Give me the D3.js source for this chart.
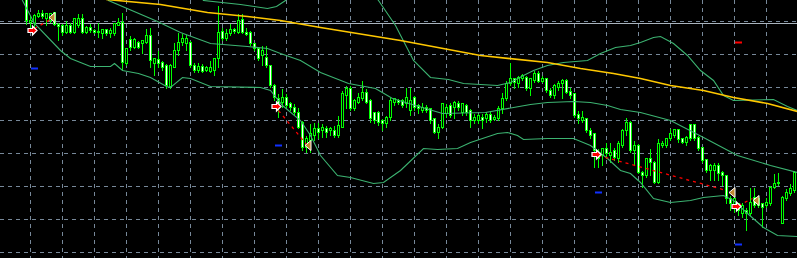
<!DOCTYPE html>
<html lang="en">
<head>
<meta charset="utf-8">
<script src="https://cdn.jsdelivr.net/npm/d3@7"></script>
<style type="text/css">
body {
	margin: 0;
	background-color: #000000;
	overflow: hidden;
}
svg { display: block; }
</style>
</head>
<body>
<script type="text/javascript">

// bar index of the first candle in ohlc
var firstBar = 6;

// candles: [open, high, low, close]
var ohlc = [
[303,308,276,280],[278,285,272,280],[277,287,272,285],[284,291,283,287],[287,291,282,284], // 6-10
[282,288,275,287],[280,288,278,287],[288,289,275,276],[276,278,260,274],[275,277,265,268], // 11-15
[268,280,267,275],[275,278,267,268],[268,283,267,282],[275,287,273,282],[282,287,267,268], // 16-20
[268,275,267,273],[273,277,268,270],[270,272,267,268],[268,278,263,269],[267,272,262,271], // 21-25
[271,272,265,267],[267,273,263,270],[267,278,265,277],[275,283,275,278],[278,288,230,238], // 26-30
[237,253,235,252],[261,265,250,253],[253,263,252,261],[258,260,252,253],[257,260,247,260], // 31-35
[258,272,257,265],[265,273,233,240],[237,243,225,242],[241,250,233,237],[238,240,230,233], // 36-40
[235,237,212,215],[214,237,212,235],[233,258,233,250],[250,268,245,258],[258,267,255,262], // 41-45
[257,266,250,262],[258,260,233,235],[235,238,228,230],[230,238,228,234],[234,237,228,229], // 46-50
[230,235,229,233],[229,240,228,233],[230,243,225,242],[242,295,233,268],[269,273,260,262], // 51-55
[262,272,260,267],[267,277,265,271],[271,273,267,269],[268,287,267,280],[281,287,267,268], // 56-60
[268,273,265,266],[268,270,255,257],[257,258,250,252],[252,253,240,242],[245,255,235,250], // 61-65
[243,255,233,235],[235,236,213,215],[215,217,200,203],[202,207,183,197],[198,212,193,203], // 66-70
[203,207,192,195],[197,199,190,193],[193,197,185,188],[188,193,172,173],[178,180,150,153], // 71-75
[153,165,148,162],[160,177,148,167],[165,178,160,172],[172,178,162,168],[170,177,163,173], // 76-80
[172,175,163,168],[170,174,165,172],[170,175,163,165],[165,185,163,175],[173,210,173,207], // 81-85
[205,215,192,212],[212,215,190,192],[192,202,190,200],[198,208,197,203],[202,220,200,208], // 86-90
[208,212,197,198],[200,202,178,182],[188,188,177,180],[188,190,175,178],[180,182,170,177], // 91-95
[177,185,173,183],[183,203,180,200],[198,203,195,202],[200,202,196,198],[200,202,193,195], // 96-100
[197,213,193,203],[190,213,185,200],[203,205,190,193],[195,197,187,192],[190,198,188,193], // 101-105
[193,196,188,190],[192,193,177,180],[182,183,167,168],[168,177,162,173],[173,198,172,197], // 106-110
[187,197,183,193],[195,198,183,185],[193,200,182,198],[197,200,190,193],[188,198,185,197], // 111-115
[195,197,185,188],[190,192,173,180],[180,187,177,183],[180,187,177,185],[183,187,172,180], // 116-120
[182,189,178,186],[186,190,178,180],[181,186,180,183],[182,195,180,192],[192,208,187,202], // 121-125
[202,220,200,217],[217,238,215,222],[222,223,212,218],[217,225,213,223],[222,227,220,225], // 126-130
[223,225,210,212],[212,223,205,222],[220,230,218,227],[227,230,218,219],[219,225,218,222], // 131-135
[222,223,208,210],[210,213,203,205],[205,217,202,215],[213,220,210,217],[217,222,202,220], // 136-140
[220,222,207,208],[209,213,202,205],[207,208,183,185],[186,190,177,182],[180,190,178,183], // 141-145
[182,183,168,170],[170,173,162,165],[167,168,133,150],[148,152,133,142],[145,153,135,152], // 146-150
[152,158,142,147],[145,158,138,148],[150,153,140,143],[142,160,138,157],[155,172,153,170], // 151-155
[170,183,165,178],[178,180,148,150],[150,160,135,155],[155,157,127,128],[128,130,113,125], // 156-160
[125,143,123,142],[142,152,125,138],[138,140,117,118],[118,162,117,157],[155,160,153,157], // 161-165
[155,163,153,162],[162,172,160,167],[165,172,163,171],[171,172,158,161],[162,163,157,158], // 166-170
[158,165,155,163],[176,177,160,162],[176,177,160,162],[163,165,150,152],[153,153,138,140], // 171-175
[141,142,128,130],[130,137,120,135],[130,138,120,135],[135,138,120,127],[128,130,115,125], // 176-180
[125,125,97,102],[102,105,90,97],[95,105,88,102],[97,98,85,90],[87,98,83,95],              // 181-185
[90,93,70,87],[87,113,85,98],[103,113,93,95],[95,105,93,102],[97,98,73,93],                // 186-190
[95,103,93,98],[97,115,95,113],[113,127,112,117],[118,128,115,117],[77,105,77,103],        // 191-195
[102,112,100,108],[107,117,105,112],[110,130,108,128]                                      // 196-198
];

// bollinger bands, [bar, price]
var upperBand = [[48.5,310],[50.25,300],[59.5,296],[66.25,292],[68.5,294],[70.75,300],[73.25,312],[80,335],[88,330],
	[92,310],[94,300],[98.25,275],[102.75,240],[107,223],[111.5,221],[115.25,217],[123.75,215],[127,218],[130.25,225],
	[132.75,230],[136.25,235],[140.25,238],[146.25,240],[149.5,247],[153.25,253],[157,255],[159.5,258],[162.75,263],
	[164.5,264],[167.75,257],[171.25,245],[174.5,230],[177.75,220],[180.25,205],[182.75,200],[192.75,201],[196.25,194],[198.75,190]];
var middleBand = [[24.5,310],[26.5,300],[38.75,279],[44.5,268],[52,257],[61.25,254],[66.25,252],[69.5,247],[74.5,240],
	[79.5,228],[86.5,217],[93.25,212],[97.5,202],[103.25,195],[110,187],[120.75,188],[127.75,193],[132,196],[136.25,198],
	[142.75,199],[147,198],[151.25,195],[154.5,191],[159.5,188],[167,180],[175.25,163],[183.75,145],[192,135],[198.75,128]];
var lowerBand = [[4,310],[5,300],[8,277],[14.5,250],[17,242],[22,234],[27,234],[28,237],[30,230],[34,227],[37,223],
	[41,214],[42,213],[45,223],[47,222],[52,214],[64.5,213],[67,210],[70,195],[74.5,180],[77,165],[79.5,145],[83.75,125],
	[87,123],[92.75,117],[95.25,118],[99.5,130],[105.25,152],[108.75,151],[113.75,152],[117,158],[123.75,167],[126.25,168],
	[128.75,165],[130.25,161],[136.25,162],[142.75,162],[147,155],[151.25,142],[154.5,130],[157,127],[159.5,118],
	[162.75,102],[167,98],[172,100],[175.25,103],[180.25,105],[182.75,100],[186.25,87],[190.25,73],[193.75,65],[198.75,64]];

// slow moving average
var maLine = [[20,310],[26,301],[39.5,296],[51.25,288],[61.25,284],[69.5,280],[79.5,273],[99.5,260],[119.5,245],
	[136.25,238],[144.5,232],[152.75,227],[159.5,222],[167,215],[175.25,210],[182.75,203],[191.25,197],[198.75,189]];

// signals
var entryArrows = [[8,270],[69,194],[149,146],[184,94]];
var exitMarks = [[13,283],[77,155],[183,108],[189,100]];
var tradeLines = [[[8,272],[12,281]], [[69,190],[76,156]], [[149,145],[181,110]], [[184,95],[187.5,102]]];
var stopMarks = [[8,232],[69,155],[149,108],[184,56]];
var targetMarks = [[184,258]];
var priceLevel = 277;

// grid: every 8 bars, every 33 price units
var gridBars = d3.range(7, 200, 8);
var gridPrices = d3.range(279, 40, -33);

var width = 797;
var height = 258;

var x = d3.scaleLinear().domain([0, 199]).range([2.5, 798.5]);
var y = d3.scaleLinear().domain([42, 300]).range([258.5, 0.5]);

var svg = d3.select("body")
	.append("svg")
	.attr("width", width)
	.attr("height", height)
	.style("background", "#000");

// grid
svg.append("g").selectAll("line")
	.data(gridBars)
	.enter().append("line")
	.attr("x1", function(d) { return x(d); })
	.attr("x2", function(d) { return x(d); })
	.attr("y1", 0).attr("y2", height)
	.attr("stroke", "#778899")
	.attr("stroke-dasharray", "4,4")
	.attr("shape-rendering", "crispEdges");

svg.append("g").selectAll("line")
	.data(gridPrices)
	.enter().append("line")
	.attr("x1", 0).attr("x2", width)
	.attr("y1", function(d) { return y(d); })
	.attr("y2", function(d) { return y(d); })
	.attr("stroke", "#778899")
	.attr("stroke-dasharray", "4,4")
	.attr("shape-rendering", "crispEdges");

svg.append("line")
	.attr("x1", 0).attr("x2", width)
	.attr("y1", y(priceLevel)).attr("y2", y(priceLevel))
	.attr("stroke", "#a9b3bd")
	.attr("shape-rendering", "crispEdges");

// candles
var candle = svg.append("g").selectAll("g")
	.data(ohlc)
	.enter().append("g");

candle.append("line")
	.attr("x1", function(d, i) { return x(firstBar + i); })
	.attr("x2", function(d, i) { return x(firstBar + i); })
	.attr("y1", function(d) { return y(d[1]); })
	.attr("y2", function(d) { return y(d[2]); })
	.attr("stroke", "#00ff00")
	.attr("shape-rendering", "crispEdges");

candle.append("rect")
	.attr("x", function(d, i) { return x(firstBar + i) - 1; })
	.attr("width", 2)
	.attr("y", function(d) { return y(Math.max(d[0], d[3])); })
	.attr("height", function(d) { return Math.abs(y(d[0]) - y(d[3])); })
	.attr("fill", function(d) { return d[3] < d[0] ? "#ffffff" : "#000000"; })
	.attr("stroke", "#00ff00")
	.attr("shape-rendering", "crispEdges");

// indicator lines
var line = d3.line()
	.x(function(d) { return x(d[0]); })
	.y(function(d) { return y(d[1]); });

[upperBand, middleBand, lowerBand].forEach(function(band) {
	svg.append("path")
		.attr("d", line(band))
		.attr("fill", "none")
		.attr("stroke", "#3cb371")
		.attr("stroke-width", 1.1);
});

svg.append("path")
	.attr("d", line(maLine))
	.attr("fill", "none")
	.attr("stroke", "#ffc800")
	.attr("stroke-width", 1.6);

// trade lines
svg.append("g").selectAll("path")
	.data(tradeLines)
	.enter().append("path")
	.attr("d", line)
	.attr("fill", "none")
	.attr("stroke", "#ff0000")
	.attr("stroke-width", 1.3)
	.attr("stroke-dasharray", "3,4");

// stop / target dashes
svg.append("g").selectAll("rect")
	.data(stopMarks)
	.enter().append("rect")
	.attr("x", function(d) { return x(d[0]) - 3.5; })
	.attr("y", function(d) { return y(d[1]) - 1; })
	.attr("width", 7).attr("height", 2)
	.attr("fill", "#1030ff");

svg.append("g").selectAll("rect")
	.data(targetMarks)
	.enter().append("rect")
	.attr("x", function(d) { return x(d[0]) - 3.5; })
	.attr("y", function(d) { return y(d[1]) - 1; })
	.attr("width", 7).attr("height", 2)
	.attr("fill", "#ff0000");

// entry arrows
svg.append("g").selectAll("path")
	.data(entryArrows)
	.enter().append("path")
	.attr("transform", function(d) { return "translate(" + (x(d[0]) + 2.5) + "," + y(d[1]) + ")"; })
	.attr("d", "M0,0 L-4.5,-4.5 L-4.5,-2 L-9,-2 L-9,2 L-4.5,2 L-4.5,4.5 Z")
	.attr("fill", "#ff0000")
	.attr("stroke", "#ffffff")
	.attr("stroke-width", 1.2)
	.attr("stroke-linejoin", "miter");

// exit triangles
svg.append("g").selectAll("path")
	.data(exitMarks)
	.enter().append("path")
	.attr("transform", function(d) { return "translate(" + (x(d[0]) + 0.5) + "," + y(d[1]) + ")"; })
	.attr("d", "M-6,0 L0,-5 L0,5 Z")
	.attr("fill", "#c08a30")
	.attr("stroke", "#ffffff")
	.attr("stroke-width", 1);

</script>
</body>
</html>
